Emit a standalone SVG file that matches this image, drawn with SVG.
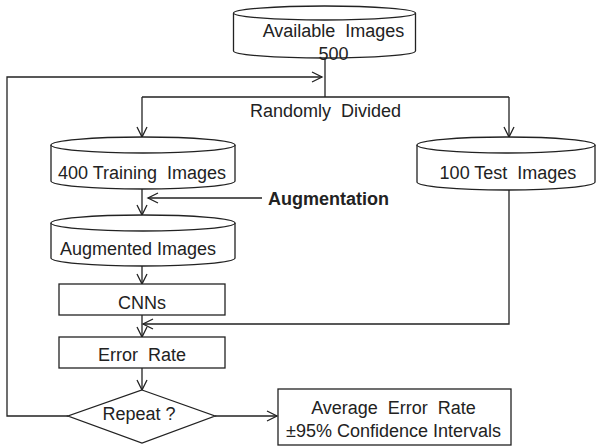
<svg xmlns="http://www.w3.org/2000/svg" width="597" height="446" viewBox="0 0 597 446">
<style>
.s{fill:#fff;stroke:#222;stroke-width:1.3}
.c{fill:none;stroke:#222;stroke-width:1.3}
text{font-family:"Liberation Sans",Arial,sans-serif;font-size:18px;fill:#222;text-anchor:middle}
.b{font-weight:bold;text-anchor:start}
</style>
<defs>
<marker id="a" markerUnits="userSpaceOnUse" markerWidth="14" markerHeight="14" viewBox="0 0 14 14" refX="12" refY="7" orient="auto">
<path d="M2,2 L12,7 L2,12" fill="none" stroke="#222" stroke-width="1.3"/>
</marker>
</defs>
<rect width="597" height="446" fill="#fff"/>
<g id="connectors">
<path class="c" d="M325,58 V97 M142,97 H509"/>
<path class="c" d="M142,97 V137" marker-end="url(#a)"/>
<path class="c" d="M509,97 V137" marker-end="url(#a)"/>
<path class="c" d="M68,416 H7 V77 H322" marker-end="url(#a)"/>
<path class="c" d="M142,189 V215" marker-end="url(#a)"/>
<path class="c" d="M262,198 H148" marker-end="url(#a)"/>
<path class="c" d="M142,266 V284" marker-end="url(#a)"/>
<path class="c" d="M142,315 V337" marker-end="url(#a)"/>
<path class="c" d="M509,189 V324 H143" marker-end="url(#a)"/>
<path class="c" d="M142,368 V390" marker-end="url(#a)"/>
<path class="c" d="M215,416 H277" marker-end="url(#a)"/>
</g>
<g id="available">
<path class="s" d="M233.5,13 L233.5,51 A91,7 0 0 0 415.5,51 L415.5,13"/>
<ellipse class="s" cx="324.5" cy="13" rx="91" ry="7"/>
<text x="333.5" y="36.5" word-spacing="5">Available Images</text>
<text x="333.5" y="59.5">500</text>
</g>
<text id="divided" x="325.5" y="116.5" word-spacing="5">Randomly Divided</text>
<g id="training">
<path class="s" d="M51,145 L51,181 A92,8 0 0 0 235,181 L235,145"/>
<ellipse class="s" cx="143" cy="145" rx="92" ry="8"/>
<text x="142" y="178.5">400 Training<tspan dx="5"> Images</tspan></text>
</g>
<g id="test">
<path class="s" d="M417,145 L417,182 A89,8 0 0 0 595,182 L595,145"/>
<ellipse class="s" cx="506" cy="145" rx="89" ry="8"/>
<text x="508" y="178.5">100 Test<tspan dx="5"> Images</tspan></text>
</g>
<text id="augmentation" class="b" x="268" y="204.5">Augmentation</text>
<g id="augmented">
<path class="s" d="M51,223 L51,258 A92,8 0 0 0 235,258 L235,223"/>
<ellipse class="s" cx="143" cy="223" rx="92" ry="8"/>
<text x="138" y="254.5">Augmented Images</text>
</g>
<g id="cnns">
<rect class="s" x="59" y="284" width="166" height="31"/>
<text x="142" y="308.5">CNNs</text>
</g>
<g id="error">
<rect class="s" x="59" y="337" width="166" height="31"/>
<text x="142" y="360.5" word-spacing="5">Error Rate</text>
</g>
<g id="repeat">
<path class="s" d="M142,390 L215,416 L142,443 L68,416 Z"/>
<text x="139" y="419.5">Repeat ?</text>
</g>
<g id="result">
<rect class="s" x="278" y="389" width="233" height="56"/>
<text x="393.5" y="413.5" word-spacing="5">Average Error Rate</text>
<text x="393.5" y="436.5">±95% Confidence Intervals</text>
</g>
</svg>
